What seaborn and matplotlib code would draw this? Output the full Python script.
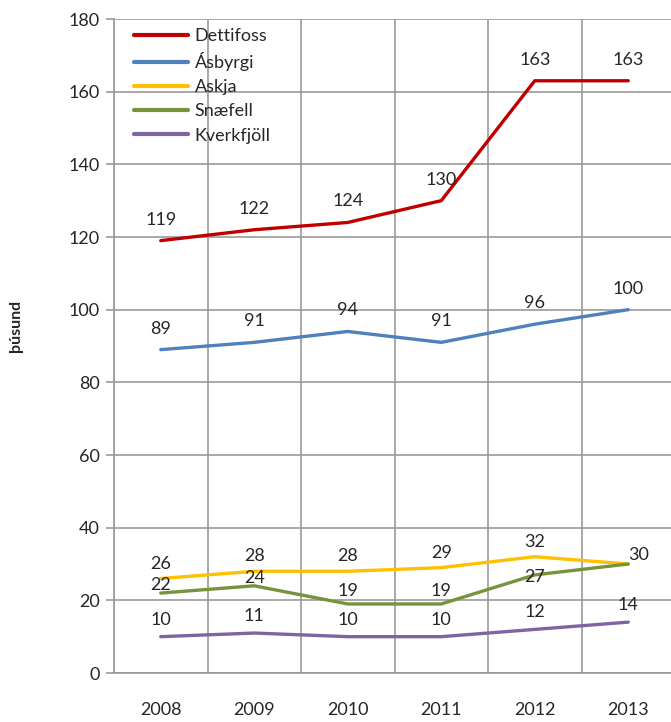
import numpy as np
import pandas as pd
import seaborn as sns
import matplotlib.pyplot as plt
from matplotlib.ticker import FixedLocator

# Gögn
ar = ["2008", "2009", "2010", "2011", "2012", "2013"]
dettifoss = [119, 122, 124, 130, 163, 163]
asbyrgi = [89, 91, 94, 91, 96, 100]
askja = [26, 28, 28, 29, 32, 30]
snaefell = [22, 24, 19, 19, 27, 30]
kverkfjoll = [10, 11, 10, 10, 12, 14]

stadir = ["Dettifoss", "Ásbyrgi", "Askja", "Snæfell", "Kverkfjöll"]
gildi = [dettifoss, asbyrgi, askja, snaefell, kverkfjoll]
litir = ["#c00000", "#4f81bd", "#ffc000", "#77933c", "#8064a2"]

df = pd.DataFrame({
    "ar": ar * len(stadir),
    "stadur": np.repeat(stadir, len(ar)),
    "fjoldi": np.concatenate(gildi),
})
df["x"] = df["ar"].map({a: i for i, a in enumerate(ar)})

sns.set_style("white")
plt.rcParams["font.family"] = ["Lato", "DejaVu Sans"]

fig = plt.figure(figsize=(6.71, 7.22), dpi=100)
ax = fig.add_axes([114 / 671, 49 / 722, 561 / 671, 654 / 722])

sns.lineplot(data=df, x="x", y="fjoldi", hue="stadur", hue_order=stadir,
             palette=litir, linewidth=2.4, ax=ax, legend=False)

# gildismerki ofan við punkta (hliðrun í pixlum)
hlidrun = {"Dettifoss": (0, 21), "Ásbyrgi": (0, 21), "Askja": (0, 15),
           "Snæfell": (0, 8), "Kverkfjöll": (0, 17)}
for s, v in zip(stadir, gildi):
    for i, y in enumerate(v):
        dx, dy = hlidrun[s]
        if s == "Askja" and i == 5:
            dx, dy = 10, 9
        if s == "Snæfell" and i == 5:
            continue  # lendir ofan á merki Öskju (30)
        if s == "Snæfell" and i in (2, 3):
            dy = 13
        if s == "Snæfell" and i == 4:
            dy = -2
        ax.annotate(str(y), (i, y), xytext=(dx, dy), textcoords="offset pixels",
                    ha="center", va="center", fontsize=13, color="#262626")

ax.set_xlim(-0.5, 5.5)
ax.set_ylim(0, 180)
ax.set_yticks(range(0, 181, 20))
ax.set_xticks(range(len(ar)))
ax.set_xticklabels(ar)
ax.xaxis.set_minor_locator(FixedLocator(np.arange(-0.5, 6, 1)))
ax.tick_params(axis="x", which="major", length=0, pad=21, labelsize=13, labelcolor="#262626")
ax.tick_params(axis="x", which="minor", length=6, width=1.2, color="#9a9a9a", direction="out")
ax.tick_params(axis="y", length=6, width=1.2, color="#9a9a9a", direction="out", pad=4,
               labelsize=13, labelcolor="#262626", left=True)

ax.grid(True, which="major", axis="y", color="#9a9a9a", linewidth=1.2)
ax.grid(True, which="minor", axis="x", color="#9a9a9a", linewidth=1.2)
for side in ["top", "right"]:
    ax.spines[side].set_visible(False)
for side in ["left", "bottom"]:
    ax.spines[side].set_color("#9a9a9a")
    ax.spines[side].set_linewidth(1.2)

ax.set_xlabel("")
ax.set_ylabel("þúsund", fontsize=11.5, fontweight="bold", color="#262626")
ax.yaxis.set_label_coords(-0.163, 0.53)

handles = [plt.Line2D([], [], color=c, linewidth=3.0) for c in litir]
ax.legend(handles, stadir, loc="upper left", bbox_to_anchor=(0.02, 1.0), frameon=False,
          fontsize=13, handlelength=3.0, handletextpad=0.35, labelspacing=0.45,
          borderaxespad=0.1)

fig.savefig("out.png", dpi=100)
